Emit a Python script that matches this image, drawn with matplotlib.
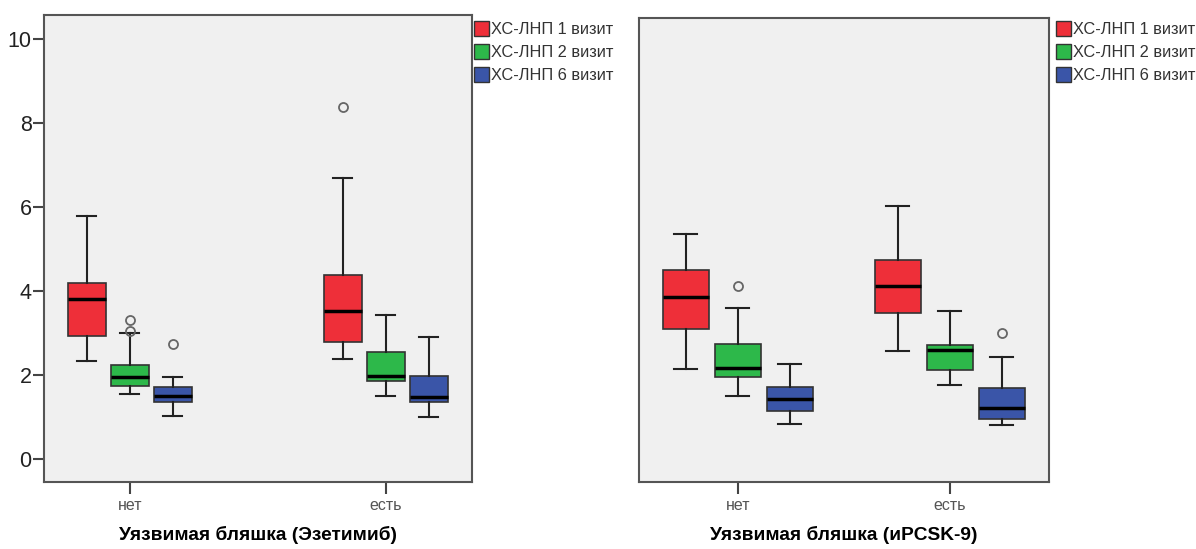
import matplotlib.pyplot as plt
from matplotlib.patches import Patch

plt.rcParams['font.family'] = ['Liberation Sans', 'DejaVu Sans']

groups = ['нет', 'есть']
series = ['ХС-ЛНП 1 визит', 'ХС-ЛНП 2 визит', 'ХС-ЛНП 6 визит']
colors = ['#ee2f39', '#2db84a', '#3a55a8']

# five-number summaries per group: [whislo, q1, med, q3, whishi]
ezet_v1 = [[2.34, 2.93, 3.81, 4.18, 5.78], [2.39, 2.78, 3.52, 4.37, 6.68]]
ezet_v2 = [[1.56, 1.75, 1.95, 2.24, 2.99], [1.51, 1.85, 1.97, 2.54, 3.42]]
ezet_v6 = [[1.04, 1.35, 1.50, 1.72, 1.96], [1.00, 1.37, 1.48, 1.99, 2.90]]
ezet_out = [[[], [8.38]], [[3.06, 3.32], []], [[2.74], []]]

pcsk_v1 = [[2.15, 3.11, 3.85, 4.50, 5.37], [2.57, 3.47, 4.12, 4.74, 6.02]]
pcsk_v2 = [[1.51, 1.97, 2.18, 2.75, 3.61], [1.76, 2.12, 2.59, 2.72, 3.53]]
pcsk_v6 = [[0.84, 1.14, 1.43, 1.71, 2.26], [0.81, 0.96, 1.22, 1.70, 2.43]]
pcsk_out = [[[], []], [[4.13], []], [[], [3.00]]]


def draw_panel(ax, data, outliers, offset, width, xlabel, xlim, ylim, legend_x):
    for s, (vals, outs) in enumerate(zip(data, outliers)):
        stats = []
        for g in range(len(groups)):
            lo, q1, med, q3, hi = vals[g]
            stats.append(dict(whislo=lo, q1=q1, med=med, q3=q3, whishi=hi,
                              fliers=outs[g]))
        pos = [g + (s - 1) * offset for g in range(len(groups))]
        ax.bxp(stats, positions=pos, widths=width, patch_artist=True,
               manage_ticks=False,
               boxprops=dict(facecolor=colors[s], edgecolor='#333333', linewidth=1.2),
               medianprops=dict(color='black', linewidth=2.5),
               whiskerprops=dict(color='#222222', linewidth=1.5),
               capprops=dict(color='#222222', linewidth=1.5),
               flierprops=dict(marker='o', markerfacecolor='none',
                               markeredgecolor='#666666', markersize=6.5,
                               markeredgewidth=1.3))
    ax.set_facecolor('#f0f0f0')
    ax.set_xlim(*xlim)
    ax.set_ylim(*ylim)
    ax.set_xticks(range(len(groups)))
    ax.set_xticklabels(groups, fontsize=11.5, color='#555555')
    ax.tick_params(axis='x', length=8.5, width=1.5, color='#444444', pad=3)
    for sp in ax.spines.values():
        sp.set_color('#555555')
        sp.set_linewidth(1.5)
    ax.set_xlabel(xlabel, fontsize=13.8, fontweight='bold', labelpad=9)
    handles = [Patch(facecolor=c, edgecolor='#333333', label=l)
               for c, l in zip(colors, series)]
    ax.legend(handles=handles, loc='upper left',
              bbox_to_anchor=(legend_x, 1 - 21 / 549),
              bbox_transform=ax.figure.transFigure,
              frameon=False, fontsize=11.8, handlelength=0.92, handleheight=1.05,
              handletextpad=0.1, labelspacing=0.42, borderaxespad=0,
              borderpad=0, labelcolor='#333333')


fig = plt.figure(figsize=(11.96, 5.49), dpi=100)
ax1 = fig.add_axes([44 / 1196, 1 - 482 / 549, 428 / 1196, 467 / 549])
ax2 = fig.add_axes([639 / 1196, 1 - 482 / 549, 410 / 1196, 464 / 549])

draw_panel(ax1, [ezet_v1, ezet_v2, ezet_v6], ezet_out, 0.168, 0.147,
           'Уязвимая бляшка (Эзетимиб)', (-0.335, 1.337), (-0.54, 10.56),
           474 / 1196)
ax1.set_yticks([0, 2, 4, 6, 8, 10])
ax1.tick_params(axis='y', length=8, width=1.5, color='#444444', labelsize=15.5,
                labelcolor='#222222', pad=1)

draw_panel(ax2, [pcsk_v1, pcsk_v2, pcsk_v6], pcsk_out, 0.246, 0.218,
           'Уязвимая бляшка (иPCSK-9)', (-0.466, 1.468), (-0.54, 10.50),
           1056 / 1196)
ax2.set_yticks([])

fig.savefig('out.png', dpi=100)
